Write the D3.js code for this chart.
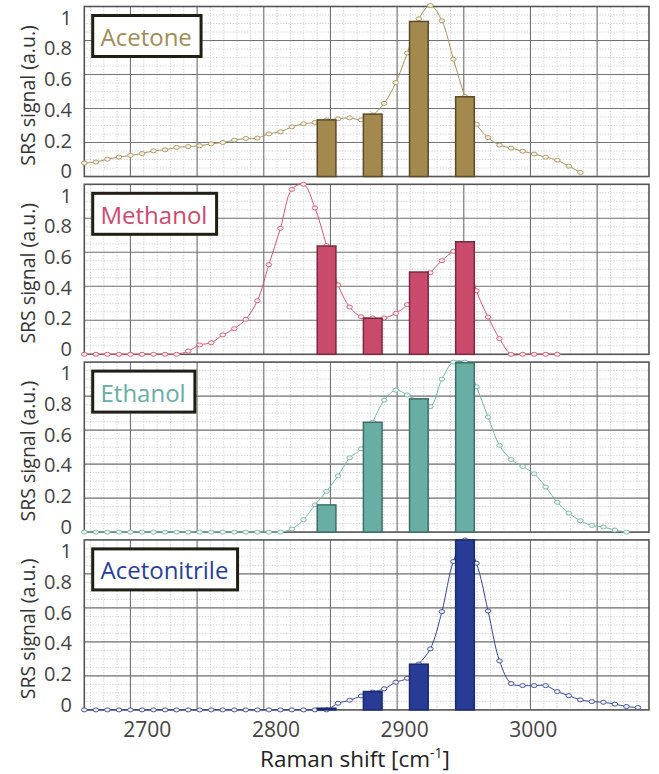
<!DOCTYPE html>
<html>
<head>
<meta charset="utf-8">
<script src="https://cdn.jsdelivr.net/npm/d3@7"></script>
<style>
body { margin: 0; background: #fff; }
svg { display: block; font-family: "Open Sans", sans-serif; }
</style>
</head>
<body>
<script>
// Raman shift of every sampled point (cm^-1)
const ramanShift = [2665.4, 2674.1, 2682.7, 2691.4, 2700.0, 2708.7, 2717.3, 2726.0, 2734.6, 2743.3,
    2751.9, 2760.6, 2769.2, 2777.9, 2786.5, 2795.2, 2803.8, 2812.5, 2821.1, 2829.8,
    2838.4, 2847.1, 2855.7, 2864.4, 2873.0, 2881.7, 2890.3, 2899.0, 2907.6, 2916.3,
    2924.9, 2933.6, 2942.2, 2950.9, 2959.5, 2968.2, 2976.8, 2985.5, 2994.1, 3002.8,
    3011.4, 3020.1, 3028.7, 3037.4, 3046.0, 3054.7, 3063.3, 3072.0, 3080.6];

// spectra (one value per ramanShift entry, series stop where the curve stops)
const acetoneSpectrum = [0.079, 0.085, 0.102, 0.114, 0.124, 0.135, 0.151, 0.157, 0.171, 0.176,
    0.181, 0.192, 0.2, 0.214, 0.224, 0.226, 0.251, 0.263, 0.292, 0.31,
    0.318, 0.333, 0.339, 0.345, 0.333, 0.362, 0.43, 0.553, 0.726, 0.928,
    1.006, 0.916, 0.69, 0.47, 0.308, 0.229, 0.185, 0.167, 0.149, 0.132,
    0.114, 0.096, 0.061, 0.024];
const methanolSpectrum = [0, 0, 0, 0, 0, 0, 0, 0, 0, 0.019,
    0.055, 0.068, 0.114, 0.151, 0.206, 0.315, 0.527, 0.741, 0.97, 1.0,
    0.861, 0.64, 0.408, 0.278, 0.221, 0.214, 0.214, 0.241, 0.292, 0.386,
    0.48, 0.551, 0.606, 0.64, 0.374, 0.219, 0.092, 0, 0, 0,
    0, 0];
const ethanolSpectrum = [0, 0, 0, 0, 0, 0, 0, 0, 0, 0,
    0, 0, 0, 0, 0, 0, 0, 0, 0.018, 0.073,
    0.16, 0.24, 0.331, 0.437, 0.49, 0.646, 0.776, 0.835, 0.807, 0.77,
    0.738, 0.9, 1.0, 1.0, 0.855, 0.677, 0.51, 0.427, 0.386, 0.343,
    0.266, 0.175, 0.112, 0.067, 0.039, 0.03, 0.012, 0];
const acetonitrileSpectrum = [0, 0, 0, 0, 0, 0, 0, 0, 0, 0,
    0, 0, 0, 0, 0, 0, 0, 0, 0, 0,
    0, 0, 0.039, 0.057, 0.082, 0.105, 0.124, 0.163, 0.186, 0.27,
    0.359, 0.578, 0.873, 1.0, 0.863, 0.582, 0.288, 0.155, 0.143, 0.143,
    0.143, 0.108, 0.084, 0.059, 0.049, 0.045, 0.034, 0.02, 0.014];

// SRS bars
const barShift = [2847.1, 2881.7, 2916.3, 2950.9];
const acetoneBars = [0.333, 0.367, 0.912, 0.469];
const methanolBars = [0.637, 0.212, 0.484, 0.662];
const ethanolBars = [0.16, 0.646, 0.784, 0.996];
const acetonitrileBars = [0.01, 0.108, 0.269, 1.0];

const names = ["Acetone", "Methanol", "Ethanol", "Acetonitrile"];
const xTickLabels = [2700, 2800, 2900, 3000];
const yTickLabels = [0, 0.2, 0.4, 0.6, 0.8, 1];

const panels = [
    {name: names[0], spectrum: acetoneSpectrum, bars: acetoneBars, text: "#a18c57", line: "#a8935e", fill: "#a3894d", stroke: "#5b4a28"},
    {name: names[1], spectrum: methanolSpectrum, bars: methanolBars, text: "#cc4a6e", line: "#d4557a", fill: "#c94a6b", stroke: "#7a2a40"},
    {name: names[2], spectrum: ethanolSpectrum, bars: ethanolBars, text: "#68aea5", line: "#6fb8ad", fill: "#68aea4", stroke: "#3f6e68"},
    {name: names[3], spectrum: acetonitrileSpectrum, bars: acetonitrileBars, text: "#2b3f9a", line: "#3347a0", fill: "#283c96", stroke: "#1a2a70"}
];

const width = 659, height = 774;
const left = 84.3, right = 649;
const panelTop0 = 6.5, panelStep = 177.8, panelHeight = 170;
const barHalf = 7;

const svg = d3.select("body").append("svg")
    .attr("width", width)
    .attr("height", height);

const x = d3.scaleLinear().domain([2665.4, 3088.9]).range([left, right]);
// the tick labels sit on their own slightly compressed spacing in the figure
const xLabel = d3.scaleLinear().domain([2700, 3000]).range([147.3, 533.3]);

const minorX = d3.range(2670, 3089, 10);
const majorX = d3.range(2700, 3051, 50);
const minorY = d3.range(0.05, 1, 0.05);
const majorY = [0.2, 0.4, 0.6, 0.8];

panels.forEach((p, i) => {
    const top = panelTop0 + i * panelStep;
    const y = d3.scaleLinear().domain([0, 1]).range([top + panelHeight, top]);
    const yLabel = d3.scaleLinear().domain([0, 1]).range([top + 164.5, top + 11]);
    const g = svg.append("g");

    // minor dotted grid
    g.selectAll(".mx").data(minorX).enter().append("line")
        .attr("x1", d => x(d)).attr("x2", d => x(d))
        .attr("y1", y(0)).attr("y2", y(1))
        .attr("stroke", "#c4c4c4").attr("stroke-width", 0.8).attr("stroke-dasharray", "1.2,1.6");
    g.selectAll(".my").data(minorY).enter().append("line")
        .attr("x1", left).attr("x2", right)
        .attr("y1", d => y(d)).attr("y2", d => y(d))
        .attr("stroke", "#c4c4c4").attr("stroke-width", 0.8).attr("stroke-dasharray", "1.2,1.6");

    // major grid
    g.selectAll(".gx").data(majorX).enter().append("line")
        .attr("x1", d => x(d)).attr("x2", d => x(d))
        .attr("y1", y(0)).attr("y2", y(1))
        .attr("stroke", "#737373").attr("stroke-width", 1.1);
    g.selectAll(".gy").data(majorY).enter().append("line")
        .attr("x1", left).attr("x2", right)
        .attr("y1", d => y(d)).attr("y2", d => y(d))
        .attr("stroke", "#737373").attr("stroke-width", 1.1);

    g.append("rect")
        .attr("x", left).attr("y", top)
        .attr("width", right - left).attr("height", panelHeight)
        .attr("fill", "none").attr("stroke", "#555").attr("stroke-width", 1.6);

    // spectrum line + markers
    const pts = p.spectrum.map((v, k) => [ramanShift[k], v]);
    const line = d3.line()
        .x(d => x(d[0])).y(d => y(d[1]))
        .curve(d3.curveCatmullRom.alpha(0.5));
    g.append("path")
        .attr("d", line(pts))
        .attr("fill", "none").attr("stroke", p.line).attr("stroke-width", 1);
    g.selectAll(".pt").data(pts).enter().append("ellipse")
        .attr("cx", d => x(d[0])).attr("cy", d => y(d[1]))
        .attr("rx", 2.8).attr("ry", 2)
        .attr("fill", "#f6f1e6").attr("stroke", p.line).attr("stroke-width", 0.9);

    // bars
    g.selectAll(".bar").data(p.bars).enter().append("rect")
        .attr("x", (d, k) => x(barShift[k] - barHalf))
        .attr("width", (d, k) => x(barShift[k] + barHalf) - x(barShift[k] - barHalf))
        .attr("y", d => y(d))
        .attr("height", d => y(0) - y(d))
        .attr("fill", p.fill).attr("stroke", p.stroke).attr("stroke-width", 1.5);

    // legend box
    const lg = g.append("g");
    const box = lg.append("rect");
    const txt = lg.append("text")
        .attr("x", 100.5).attr("y", top + 39.5)
        .attr("font-size", 24).attr("fill", p.text)
        .text(p.name);
    const tw = txt.node().getComputedTextLength();
    box.attr("x", 92.7).attr("y", top + 9)
        .attr("width", tw + 17).attr("height", 41)
        .attr("fill", "#fff").attr("stroke", "#1f1f16").attr("stroke-width", 3);

    // y tick labels
    g.selectAll(".yl").data(yTickLabels).enter().append("text")
        .attr("x", 72).attr("y", d => yLabel(d))
        .attr("dy", "0.36em")
        .attr("text-anchor", "end")
        .attr("font-size", 20).attr("fill", "#444")
        .text(d => d3.format("~g")(d));

    g.append("text")
        .attr("transform", `translate(35,${top + 89}) rotate(-90)`)
        .attr("text-anchor", "middle")
        .attr("font-size", 19.5).attr("fill", "#333")
        .text("SRS signal (a.u.)");
});

// x tick labels
svg.selectAll(".xl").data(xTickLabels).enter().append("text")
    .attr("x", d => xLabel(d)).attr("y", 736.5)
    .attr("text-anchor", "middle")
    .attr("font-size", 21).attr("fill", "#444")
    .text(d => d);

const xt = svg.append("text")
    .attr("x", 355).attr("y", 767)
    .attr("text-anchor", "middle")
    .attr("font-size", 22.5).attr("fill", "#222");
xt.append("tspan").text("Raman shift [cm");
xt.append("tspan").attr("dy", -9).attr("font-size", 14).text("-1");
xt.append("tspan").attr("dy", 9).text("]");
</script>
</body>
</html>
